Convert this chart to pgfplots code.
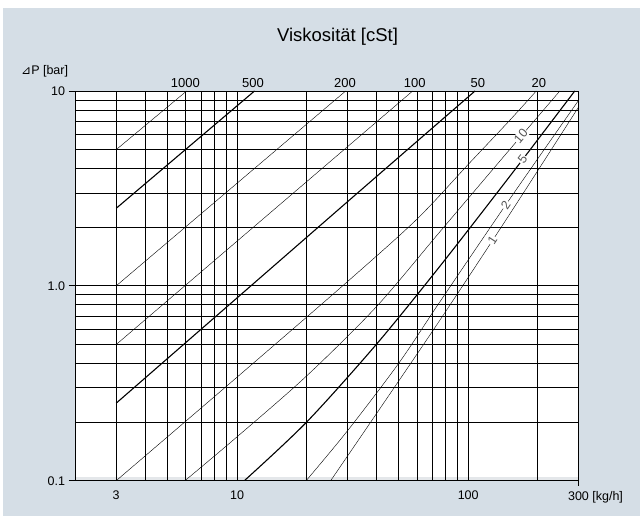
\documentclass[border=0pt]{standalone}
\usepackage{pgfplots}
\pgfplotsset{compat=1.18}
\usepackage{fontspec}
\setmainfont{Liberation Sans}
\newfontfamily\dejavu{DejaVu Sans}
\definecolor{bgblue}{RGB}{213,222,230}
\definecolor{lblgray}{RGB}{85,85,85}
\definecolor{bandgray}{RGB}{228,231,234}
\begin{document}
\begin{tikzpicture}[x=1pt,y=1pt]
\useasboundingbox (0,0) rectangle (640,516);
\fill[white] (0,0) rectangle (640,516);
\fill[bgblue] (3,0) rectangle (640,508);
\fill[white] (75.5,35.3) rectangle (578.5,425);
\fill[bandgray] (75.5,35.3) rectangle (578.5,39.3);
\node[anchor=base,inner sep=0,font=\fontsize{18.5}{22}\selectfont] at (337.5,474) {Viskosität [cSt]};
\node[anchor=base west,inner sep=0,font=\fontsize{12.5}{15}\selectfont] at (21,441) {{\dejavu\fontsize{12}{14}\selectfont ⊿}P [bar]};
\begin{axis}[
  at={(75.5pt,35.3pt)}, anchor=south west,
  scale only axis, width=503pt, height=389.7pt,
  xmode=log, ymode=log,
  xmin=2, xmax=300, ymin=0.1, ymax=10,
  xtick={3,10,100,300},
  xticklabels={3,10,100,{300\rlap{ [kg/h]}}},
  ytick={0.1,1,10},
  yticklabels={0.1,1.0,10},
  minor xtick={4,5,6,7,8,9,20,30,40,50,60,70,80,90,200},
  minor ytick={0.2,0.3,0.4,0.5,0.6,0.7,0.8,0.9,2,3,4,5,6,7,8,9},
  grid=both,
  major grid style={black, line width=0.75pt},
  minor grid style={black, line width=0.75pt},
  tick align=outside,
  major tick length=7pt,
  minor tick length=0pt,
  xtick style={draw=none},
  ytick style={black, line width=0.75pt},
  axis x line*=bottom, axis y line*=left,
  axis line style={black, line width=1.4pt},
  ticklabel style={font=\fontsize{12.5}{15}\selectfont},
  /pgf/number format/assume math mode=true,
  clip mode=individual,
  cycle list={{black, line width=1.1pt, no markers}},
]
% 1000 cSt
\addplot coordinates {(3,5) (6.05,10)};
% 500 cSt
\addplot coordinates {(3,2.5) (11.9,10)};
% 200 cSt
\addplot coordinates {(3,1.0) (29.5,10)};
% 100 cSt
\addplot coordinates {(3,0.5) (57.5,10)};
% 50 cSt
\addplot coordinates {(3,0.25) (30.5,2.745) (107,10)};
% 20 cSt
\addplot+[smooth] coordinates {(3,0.1) (10,0.34) (30,1.05) (60,2.2) (100,4.2) (150,7.0) (197,10)};
% 10 cSt
\addplot+[smooth] coordinates {(5.95,0.1) (10,0.168) (20,0.345) (40,0.78) (75,1.88) (140,4.5) (249,10)};
% 5 cSt
\addplot+[smooth] coordinates {(10.75,0.1) (20,0.2) (40,0.5) (75,1.25) (150,3.6) (289,10)};
% 2 cSt
\addplot+[smooth] coordinates {(19.9,0.1) (30,0.18) (50,0.4) (75,0.82) (150,2.75) (300,8.94)};
% 1 cSt
\addplot+[smooth] coordinates {(25.4,0.1) (40,0.22) (75,0.66) (150,2.3) (300,8.26)};
% top labels
\begin{scope}[every node/.style={anchor=base,inner sep=0,yshift=3.5pt,font=\fontsize{13}{15}\selectfont}]
\node at (axis cs:5.97,10) {1000};
\node at (axis cs:11.73,10) {500};
\node at (axis cs:29.3,10) {200};
\node at (axis cs:58.7,10) {100};
\node at (axis cs:110,10) {50};
\node at (axis cs:202,10) {20};
\end{scope}
\begin{scope}[every node/.style={fill=white,inner sep=0.8pt,text=lblgray,font=\fontsize{12.5}{15}\selectfont}]
\node[rotate=50] at (axis cs:169,5.86) {10};
\node[rotate=53] at (axis cs:172,4.46) {5};
\node[rotate=56] at (axis cs:145.3,2.6) {2};
\node[rotate=57] at (axis cs:127.3,1.71) {1};
\end{scope}
\end{axis}
\draw[black, line width=1pt] (578.5,35.3) -- (578.5,30);
\end{tikzpicture}
\end{document}
